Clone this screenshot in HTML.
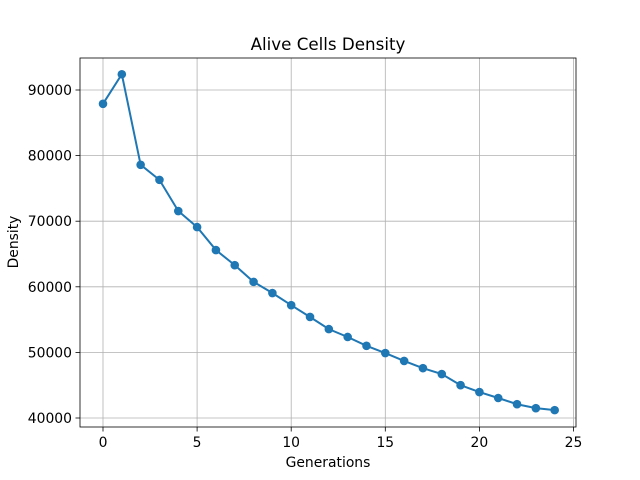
<!DOCTYPE html>
<html><head><meta charset="utf-8"><style>body{margin:0;background:#fff}svg{display:block;font-family:"DejaVu Sans","Liberation Sans",sans-serif}</style></head>
<body>
<svg id="chart" width="640" height="480">
<rect width="640" height="480" fill="#fff"/>
<g id="grid"></g>
<g id="plot"></g>
<rect x="80" y="58" width="496" height="369" fill="none" stroke="#000" stroke-width="0.8"/>
<g id="axes"></g>
<text x="328" y="50" text-anchor="middle" font-size="16.7">Alive Cells Density</text>
<text x="328" y="467" text-anchor="middle" font-size="13.9">Generations</text>
<text x="18" y="242" text-anchor="middle" font-size="13.9" transform="rotate(-90 18 242)">Density</text>
</svg>
<script>
const generations=[0,1,2,3,4,5,6,7,8,9,10,11,12,13,14,15,16,17,18,19,20,21,22,23,24];
const density=[87900,92400,78600,76300,71550,69100,65600,63300,60750,59050,57200,55400,53550,52350,51000,49900,48700,47600,46700,45000,43950,43050,42100,41500,41200];
const xTicks=[0,5,10,15,20,25];
const yTicks=[40000,50000,60000,70000,80000,90000];
const ns="http://www.w3.org/2000/svg";
const X=v=>103+v*18.82;
const Y=v=>418-(v-40000)/50000*328;
function mk(t,a,p){const e=document.createElementNS(ns,t);for(const k in a)e.setAttribute(k,a[k]);p.appendChild(e);return e;}
const grid=document.getElementById('grid'),axes=document.getElementById('axes'),plot=document.getElementById('plot');
xTicks.forEach(t=>{const x=X(t);
const g=mk('line',{x1:x,x2:x,y1:58,y2:427,stroke:'#b0b0b0','stroke-width':0.8},grid);


const k=mk('line',{x1:x,x2:x,y1:427,y2:431.5,stroke:'#000','stroke-width':0.8},axes);


const l=mk('text',{x:x,y:447,'text-anchor':'middle','font-size':13.9},axes);l.textContent=t;

});
yTicks.forEach(t=>{const y=Y(t);
const g=mk('line',{x1:80,x2:576,y1:y,y2:y,stroke:'#b0b0b0','stroke-width':0.8},grid);


const k=mk('line',{x1:75.5,x2:80,y1:y,y2:y,stroke:'#000','stroke-width':0.8},axes);


const l=mk('text',{x:72,y:y+5,'text-anchor':'end','font-size':13.9},axes);l.textContent=t;

});
const line=mk('polyline',{points:generations.map((g,i)=>X(g)+','+Y(density[i])).join(' '),fill:'none',stroke:'#1f77b4','stroke-width':2},plot);


generations.forEach((g,i)=>{const c=mk('circle',{cx:X(g),cy:Y(density[i]),r:4.3,fill:'#1f77b4'},plot);

});
</script>
</body></html>
